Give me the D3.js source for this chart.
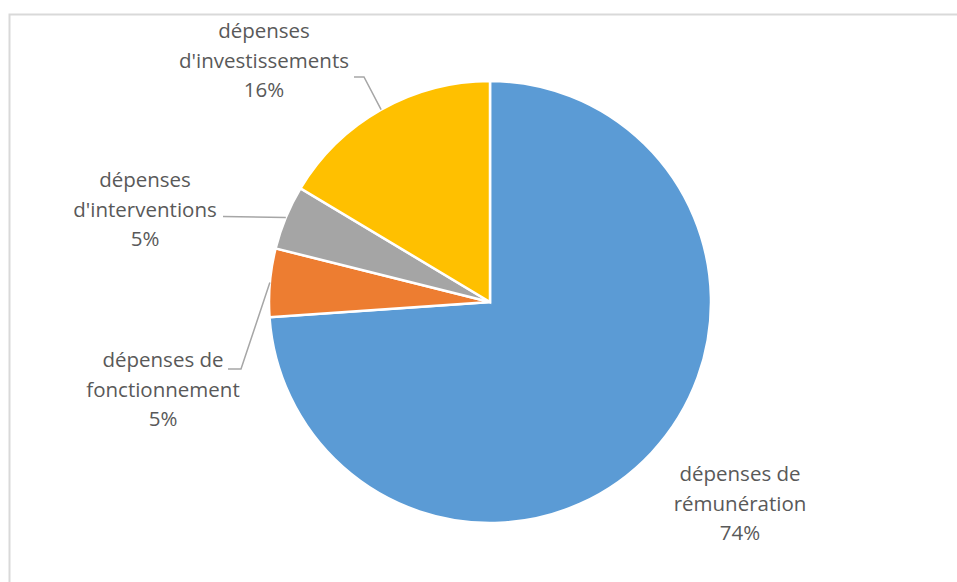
<!DOCTYPE html>
<html><head><meta charset="utf-8">
<script src="https://cdn.jsdelivr.net/npm/d3@7/dist/d3.min.js"></script>
<style>body{margin:0;background:#fff}svg{display:block}</style>
</head><body>
<svg id="c" width="957" height="582"></svg>
<script>
const categories = ["dépenses de rémunération","dépenses de fonctionnement","dépenses d'interventions","dépenses d'investissements"];
const values = [73.9, 5.0, 4.7, 16.4];
const labelLines = [["dépenses de","rémunération"],["dépenses de","fonctionnement"],["dépenses","d'interventions"],["dépenses","d'investissements"]];
const pctLabels = ["74%","5%","5%","16%"];
const colors = ["#5B9BD5","#ED7D31","#A5A5A5","#FFC000"];

const svg = d3.select("#c");
svg.append("rect").attr("x",9.5).attr("y",14.5).attr("width",960).attr("height",580)
  .attr("fill","none").attr("stroke","#d9d9d9").attr("stroke-width",2);

const cx = 490, cy = 302, R = 221;
const g = svg.append("g").attr("transform",`translate(${cx},${cy})`);
const pie = d3.pie().sort(null).value(d=>d)(values);
const arc = d3.arc().innerRadius(0).outerRadius(R);
g.selectAll("path").data(pie).join("path")
  .attr("d",arc).attr("fill",(d,i)=>colors[i])
  .attr("stroke","#fff").attr("stroke-width",2.5).attr("stroke-linejoin","miter");

const labelPos = [[740,476],[163,362],[145,182],[264,33]];
const lineH = 29.5;
labelPos.forEach((p,i)=>{
  const t = svg.append("text").attr("text-anchor","middle")
    .attr("font-family","'Open Sans', sans-serif").attr("font-size",20.5).attr("fill","#595959");
  const lines = labelLines[i].concat([pctLabels[i]]);
  lines.forEach((l,k)=>{
    t.append("tspan").attr("x",p[0]).attr("y",p[1]+k*lineH).attr("dominant-baseline","middle").text(l);
  });
});

function edgePoint(i, frac){
  const d = pie[i];
  const a = d.startAngle + (d.endAngle-d.startAngle)*frac;
  return [cx + R*Math.sin(a), cy - R*Math.cos(a)];
}
const leaders = [
  null,
  [[228,369],[241,369], edgePoint(1,0.5)],
  [[223,216.5], edgePoint(2,0.5)],
  [[354,77],[364,77], edgePoint(3,0.5)]
];
leaders.forEach(pts=>{
  if(!pts) return;
  svg.append("path").attr("d",d3.line()(pts)).attr("fill","none")
    .attr("stroke","#a6a6a6").attr("stroke-width",1.5);
});
</script>
</body></html>
